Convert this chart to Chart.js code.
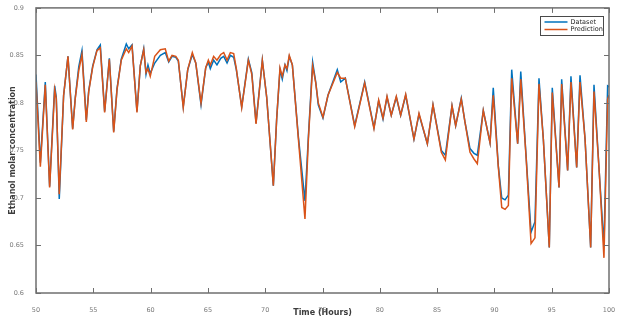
<!DOCTYPE html>
<html>
<head>
<meta charset="utf-8">
<script src="https://cdn.jsdelivr.net/npm/chart.js@4.4.1/dist/chart.umd.min.js"></script>
<style>
  html, body { margin: 0; padding: 0; background: #fff; }
  #chart { display: block; }
</style>
</head>
<body>
<canvas id="chart" width="624" height="323"></canvas>
<script>
// time axis (hours) - vertices
var hours = [
  50.00, 50.38, 50.81, 51.19, 51.63, 51.77, 52.03, 52.41, 52.79, 53.20,
  53.43, 53.73, 54.01, 54.39, 54.60, 54.95, 55.32, 55.61, 55.99, 56.40,
  56.78, 57.07, 57.44, 57.88, 58.09, 58.38, 58.81, 59.10, 59.40, 59.60,
  59.77, 59.97, 60.36, 60.85, 61.28, 61.58, 61.87, 62.20, 62.42, 62.85,
  63.24, 63.64, 63.94, 64.40, 64.81, 65.04, 65.21, 65.50, 65.79, 66.12,
  66.38, 66.67, 66.96, 67.25, 67.48, 67.95, 68.53, 68.83, 69.20, 69.75,
  70.13, 70.71, 71.00, 71.29, 71.49, 71.73, 71.90, 72.10, 72.37, 72.89,
  73.47, 73.77, 74.14, 74.41, 74.63, 75.04, 75.48, 76.29, 76.59, 76.99,
  77.81, 78.68, 79.49, 79.90, 80.28, 80.63, 81.00, 81.44, 81.82, 82.26,
  82.98, 83.42, 84.15, 84.64, 85.37, 85.72, 86.30, 86.62, 87.11, 87.43,
  87.87, 88.22, 88.51, 89.03, 89.62, 89.90, 90.34, 90.64, 90.93, 91.22,
  91.51, 92.03, 92.30, 92.76, 93.20, 93.54, 93.89, 94.27, 94.79, 95.05,
  95.64, 95.87, 96.39, 96.68, 97.18, 97.47, 97.91, 98.40, 98.69, 99.15,
  99.56, 99.88, 100.00
];

var datasetValues = [
  0.830, 0.737, 0.822, 0.712, 0.818, 0.806, 0.699, 0.808, 0.849, 0.773,
  0.806, 0.838, 0.855, 0.782, 0.813, 0.839, 0.856, 0.861, 0.791, 0.847,
  0.770, 0.815, 0.846, 0.862, 0.857, 0.861, 0.791, 0.839, 0.857, 0.830,
  0.840, 0.831, 0.842, 0.850, 0.853, 0.843, 0.849, 0.848, 0.844, 0.796,
  0.835, 0.851, 0.842, 0.798, 0.837, 0.843, 0.836, 0.845, 0.840, 0.847,
  0.849, 0.842, 0.850, 0.848, 0.835, 0.796, 0.846, 0.832, 0.779, 0.845,
  0.806, 0.713, 0.783, 0.835, 0.825, 0.840, 0.834, 0.849, 0.840, 0.765,
  0.697, 0.765, 0.843, 0.822, 0.798, 0.784, 0.808, 0.835, 0.822, 0.826,
  0.776, 0.822, 0.774, 0.802, 0.783, 0.806, 0.787, 0.806, 0.787, 0.808,
  0.762, 0.788, 0.757, 0.798, 0.750, 0.745, 0.797, 0.776, 0.805, 0.780,
  0.752, 0.747, 0.745, 0.792, 0.758, 0.816, 0.734, 0.700, 0.698, 0.703,
  0.835, 0.757, 0.833, 0.745, 0.664, 0.675, 0.826, 0.762, 0.648, 0.816,
  0.711, 0.825, 0.729, 0.828, 0.732, 0.829, 0.762, 0.648, 0.819, 0.727,
  0.650, 0.818, 0.817
];

var predictionValues = [
  0.822, 0.733, 0.819, 0.711, 0.814, 0.804, 0.704, 0.808, 0.849, 0.772,
  0.805, 0.834, 0.851, 0.780, 0.812, 0.838, 0.855, 0.858, 0.790, 0.846,
  0.769, 0.814, 0.845, 0.857, 0.853, 0.860, 0.790, 0.839, 0.856, 0.832,
  0.836, 0.828, 0.849, 0.856, 0.857, 0.844, 0.850, 0.849, 0.845, 0.795,
  0.835, 0.853, 0.842, 0.800, 0.837, 0.845, 0.840, 0.849, 0.845, 0.851,
  0.853, 0.845, 0.853, 0.852, 0.836, 0.795, 0.845, 0.830, 0.778, 0.845,
  0.806, 0.713, 0.783, 0.837, 0.828, 0.840, 0.836, 0.850, 0.840, 0.763,
  0.678, 0.762, 0.839, 0.821, 0.800, 0.785, 0.808, 0.832, 0.826, 0.826,
  0.775, 0.821, 0.773, 0.803, 0.784, 0.807, 0.787, 0.807, 0.787, 0.809,
  0.762, 0.789, 0.757, 0.798, 0.748, 0.740, 0.797, 0.776, 0.804, 0.780,
  0.748, 0.741, 0.736, 0.792, 0.758, 0.808, 0.733, 0.690, 0.688, 0.692,
  0.826, 0.757, 0.825, 0.744, 0.652, 0.658, 0.820, 0.762, 0.648, 0.811,
  0.711, 0.820, 0.729, 0.822, 0.732, 0.822, 0.762, 0.648, 0.812, 0.727,
  0.637, 0.804, 0.808
];

var seriesNames = ['Dataset', 'Prediction'];
var seriesColours = ['#0072BD', '#D95319'];

var AXIS_COLOUR = '#6f6f6f';
var TICK_TEXT = '#7a7a7a';
var TITLE_TEXT = '#3c3c3c';
var FONT = '"DejaVu Sans", Verdana, sans-serif';

function toPoints(values) {
  return values.map(function (v, i) { return { x: hours[i], y: v }; });
}

// MATLAB-style box: frame + inward ticks on all four sides
var boxAxes = {
  id: 'boxAxes',
  afterDatasetsDraw: function (chart) {
    var ctx = chart.ctx;
    var a = chart.chartArea;
    var xs = chart.scales.x;
    var ys = chart.scales.y;
    var len = 5;
    ctx.save();
    ctx.strokeStyle = AXIS_COLOUR;
    ctx.lineWidth = 1;
    ctx.beginPath();
    xs.ticks.forEach(function (t) {
      var px = Math.round(xs.getPixelForValue(t.value)) + 0.5;
      ctx.moveTo(px, a.bottom); ctx.lineTo(px, a.bottom - len);
      ctx.moveTo(px, a.top); ctx.lineTo(px, a.top + len);
    });
    ys.ticks.forEach(function (t) {
      var py = Math.round(ys.getPixelForValue(t.value)) + 0.5;
      ctx.moveTo(a.left, py); ctx.lineTo(a.left + len, py);
      ctx.moveTo(a.right, py); ctx.lineTo(a.right - len, py);
    });
    ctx.stroke();
    ctx.lineWidth = 1.5;
    ctx.strokeRect(a.left, a.top, a.right - a.left, a.bottom - a.top);
    ctx.restore();
  }
};

// legend box in the upper-right corner of the plot
var boxLegend = {
  id: 'boxLegend',
  afterDraw: function (chart) {
    var ctx = chart.ctx;
    var a = chart.chartArea;
    var w = 63, h = 19;
    var x0 = Math.round(a.right - 6.5 - w) + 0.5;
    var y0 = Math.round(a.top + 8) + 0.5;
    ctx.save();
    ctx.fillStyle = '#fff';
    ctx.fillRect(x0, y0, w, h);
    ctx.strokeStyle = '#4a4a4a';
    ctx.lineWidth = 1;
    ctx.strokeRect(x0, y0, w, h);
    ctx.font = '6.5px ' + FONT;
    ctx.textBaseline = 'middle';
    seriesNames.forEach(function (name, i) {
      var yy = y0 + 5.5 + i * 7.5;
      ctx.strokeStyle = seriesColours[i];
      ctx.lineWidth = 1.5;
      ctx.beginPath();
      ctx.moveTo(x0 + 4, yy);
      ctx.lineTo(x0 + 27, yy);
      ctx.stroke();
      ctx.fillStyle = '#1e1e1e';
      ctx.fillText(name, x0 + 30, yy);
    });
    ctx.restore();
  }
};

new Chart(document.getElementById('chart').getContext('2d'), {
  type: 'line',
  data: {
    datasets: [{
      label: seriesNames[0],
      data: toPoints(datasetValues),
      borderColor: seriesColours[0],
      borderWidth: 1.5,
      pointRadius: 0,
      tension: 0,
      order: 2
    }, {
      label: seriesNames[1],
      data: toPoints(predictionValues),
      borderColor: seriesColours[1],
      borderWidth: 1.5,
      pointRadius: 0,
      tension: 0,
      order: 1
    }]
  },
  options: {
    responsive: false,
    animation: false,
    devicePixelRatio: 1,
    layout: { padding: { top: 7, right: 15, left: 0, bottom: 0 } },
    plugins: {
      legend: { display: false },
      tooltip: { enabled: false }
    },
    scales: {
      x: {
        type: 'linear',
        min: 50, max: 100,
        grid: { display: false },
        border: { display: false },
        ticks: {
          stepSize: 5,
          color: TICK_TEXT,
          padding: 5,
          maxRotation: 0,
          font: { family: FONT, size: 6.5 }
        },
        title: {
          display: true,
          text: 'Time (Hours)',
          color: TITLE_TEXT,
          font: { family: FONT, size: 8, weight: 'bold' },
          padding: { top: 4, bottom: 5 }
        },
        afterFit: function (s) { s.height = 30; }
      },
      y: {
        min: 0.6, max: 0.9,
        grid: { display: false },
        border: { display: false },
        ticks: {
          stepSize: 0.05,
          color: TICK_TEXT,
          padding: 4,
          font: { family: FONT, size: 6.5 },
          callback: function (v) { return String(+v.toFixed(2)); }
        },
        title: {
          display: true,
          text: 'Ethanol molar concentration',
          color: TITLE_TEXT,
          font: { family: FONT, size: 8, weight: 'bold' },
          padding: { top: 8, bottom: 4 }
        },
        afterFit: function (s) { s.width = 36; }
      }
    }
  },
  plugins: [boxAxes, boxLegend]
});
</script>
</body>
</html>
